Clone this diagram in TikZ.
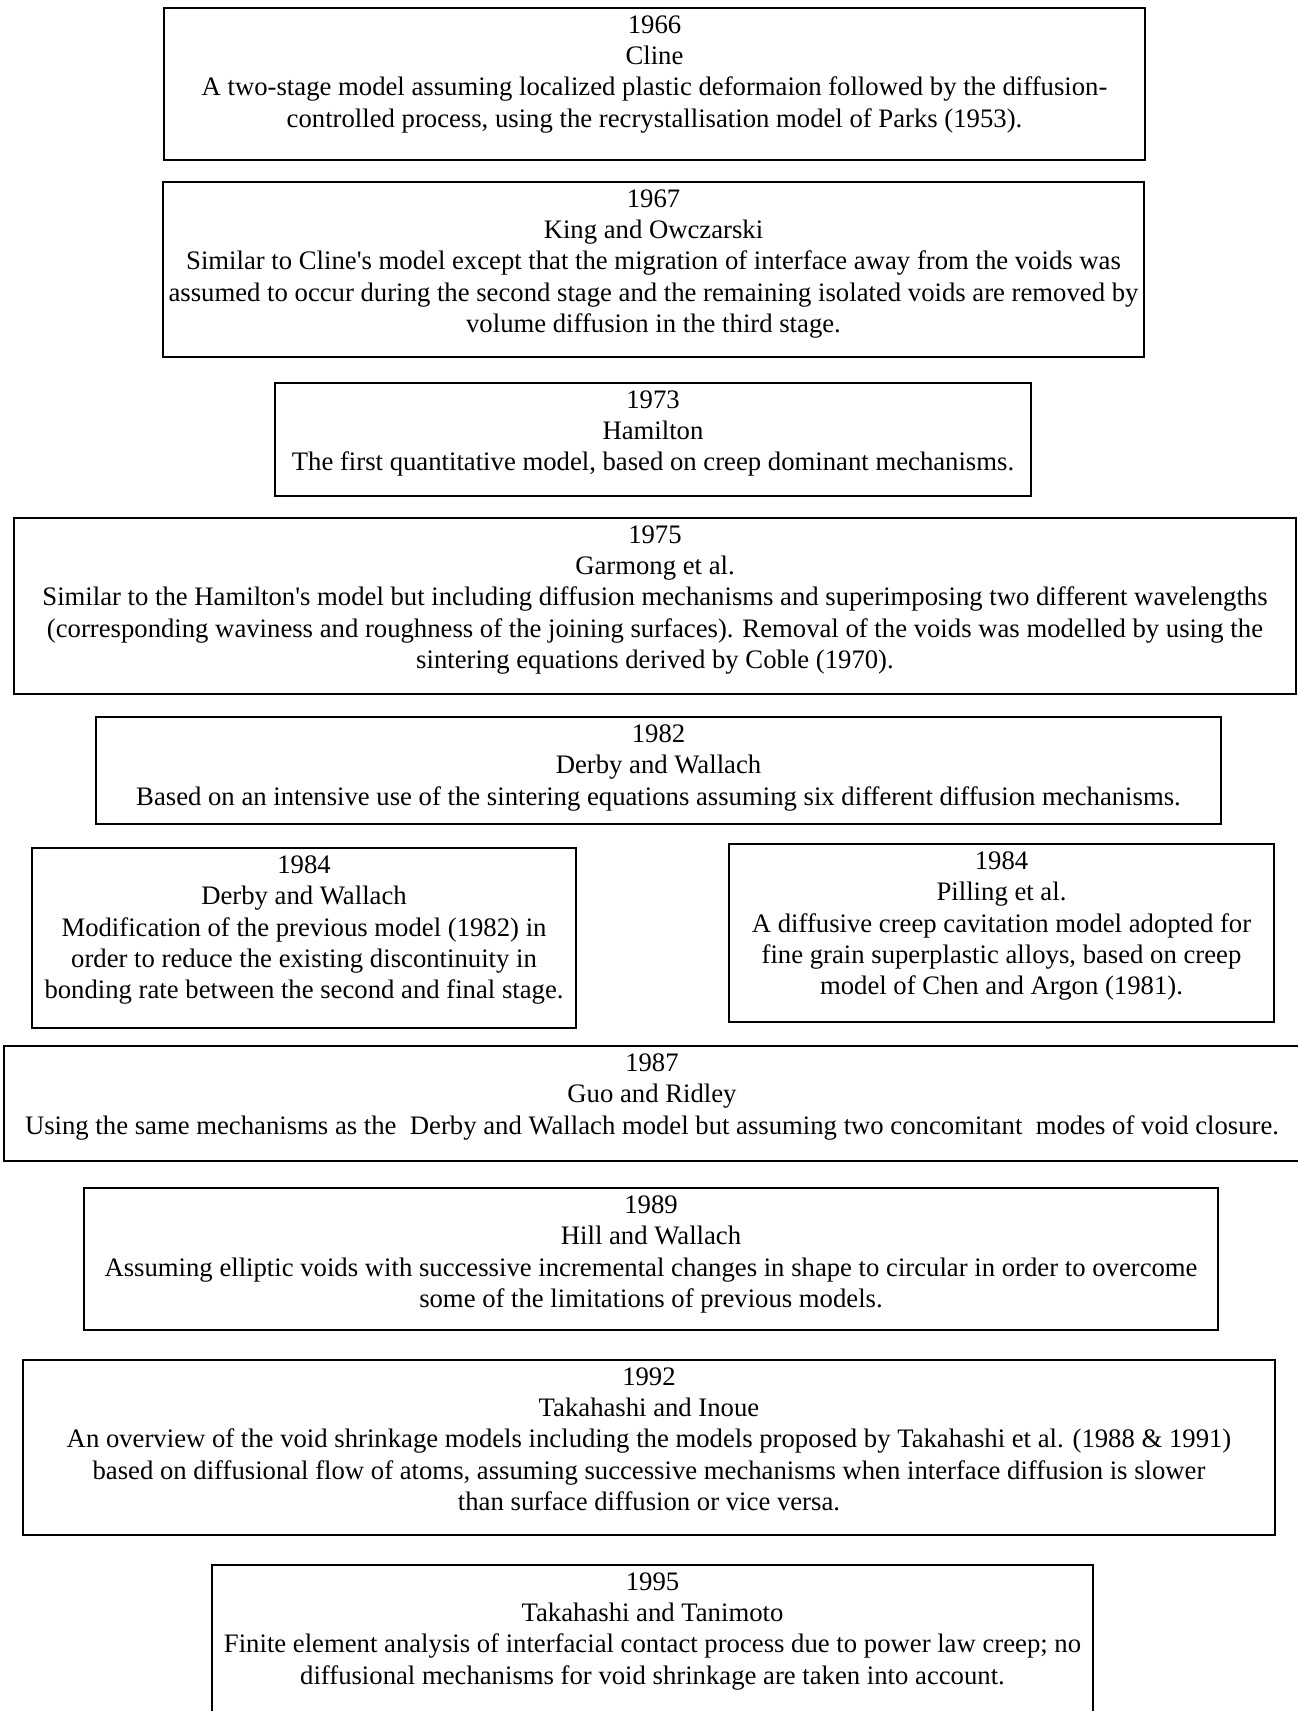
\documentclass[tikz,border=0pt]{standalone}
\usepackage{fontspec}
\setmainfont{Liberation Serif}[Ligatures=TeXOff]
\begin{document}
\begin{tikzpicture}[x=1pt,y=-1pt,
  frame/.style={draw, line width=1.8pt, anchor=north west, inner sep=0pt, outer sep=0pt},
  txt/.style={anchor=north, align=center, inner sep=0pt, font=\fontsize{26.7}{31.3}\selectfont, yshift=-7.5pt}]
\useasboundingbox (0,0) rectangle (1298,1711);
\node[frame, minimum width=981pt, minimum height=152pt] (b1) at (164,8) {};
\node[txt] (t1) at (b1.north) {1966\\Cline\\A two-stage model assuming localized plastic deformaion followed by the diffusion-\\controlled process, using the recrystallisation model of Parks (1953).};
\node[frame, minimum width=981pt, minimum height=175pt] (b2) at (163,182) {};
\node[txt] (t2) at (b2.north) {1967\\King and Owczarski\\Similar to Cline's model except that the migration of interface away from the voids was\\assumed to occur during the second stage and the remaining isolated voids are removed by\\volume diffusion in the third stage.};
\node[frame, minimum width=756pt, minimum height=113pt] (b3) at (275,383) {};
\node[txt] (t3) at (b3.north) {1973\\Hamilton\\The first quantitative model, based on creep dominant mechanisms.};
\node[frame, minimum width=1282pt, minimum height=176pt] (b4) at (14,518) {};
\node[txt] (t4) at (b4.north) {1975\\Garmong et al.\\Similar to the Hamilton's model but including diffusion mechanisms and superimposing two different wavelengths\\(corresponding waviness and roughness of the joining surfaces). Removal of the voids was modelled by using the\\sintering equations derived by Coble (1970).};
\node[frame, minimum width=1125pt, minimum height=107pt] (b5) at (96,717) {};
\node[txt] (t5) at (b5.north) {1982\\Derby and Wallach\\Based on an intensive use of the sintering equations assuming six different diffusion mechanisms.};
\node[frame, minimum width=544pt, minimum height=180pt] (b6) at (32,848) {};
\node[txt] (t6) at (b6.north) {1984\\Derby and Wallach\\Modification of the previous model (1982) in\\order to reduce the existing discontinuity in\\bonding rate between the second and final stage.};
\node[frame, minimum width=545pt, minimum height=178pt] (b7) at (729,844) {};
\node[txt] (t7) at (b7.north) {1984\\Pilling et al.\\A diffusive creep cavitation model adopted for\\fine grain superplastic alloys, based on creep\\model of Chen and Argon (1981).};
\node[frame, minimum width=1296pt, minimum height=115pt] (b8) at (4,1046) {};
\node[txt] (t8) at (b8.north) {1987\\Guo and Ridley\\Using the same mechanisms as the \ Derby and Wallach model but assuming two concomitant \ modes of void closure.};
\node[frame, minimum width=1134pt, minimum height=142pt] (b9) at (84,1188) {};
\node[txt] (t9) at (b9.north) {1989\\Hill and Wallach\\Assuming elliptic voids with successive incremental changes in shape to circular in order to overcome\\some of the limitations of previous models.};
\node[frame, minimum width=1252pt, minimum height=175pt] (b10) at (23,1360) {};
\node[txt] (t10) at (b10.north) {1992\\Takahashi and Inoue\\An overview of the void shrinkage models including the models proposed by Takahashi et al. (1988 \& 1991)\\based on diffusional flow of atoms, assuming successive mechanisms when interface diffusion is slower\\than surface diffusion or vice versa.};
\node[frame, minimum width=881pt, minimum height=160pt] (b11) at (212,1565) {};
\node[txt] (t11) at (b11.north) {1995\\Takahashi and Tanimoto\\Finite element analysis of interfacial contact process due to power law creep; no\\diffusional mechanisms for void shrinkage are taken into account.};
\end{tikzpicture}
\end{document}
